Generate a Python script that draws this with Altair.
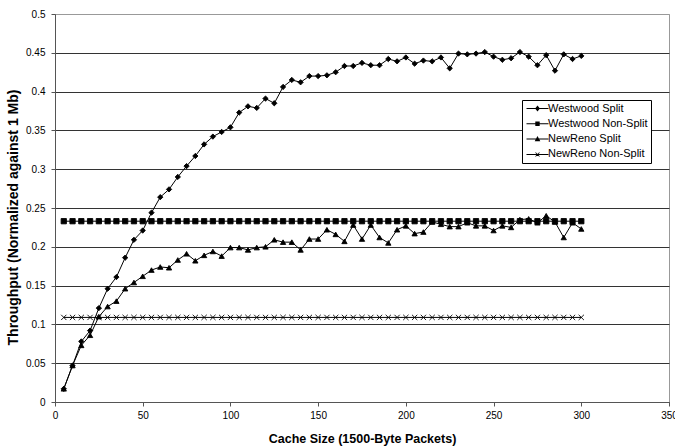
import altair as alt
import pandas as pd

cache_size = [5, 10, 15, 20, 25, 30, 35, 40, 45, 50,
              55, 60, 65, 70, 75, 80, 85, 90, 95, 100,
              105, 110, 115, 120, 125, 130, 135, 140, 145, 150,
              155, 160, 165, 170, 175, 180, 185, 190, 195, 200,
              205, 210, 215, 220, 225, 230, 235, 240, 245, 250,
              255, 260, 265, 270, 275, 280, 285, 290, 295, 300]

westwood_split = [0.017, 0.047, 0.078, 0.092, 0.121, 0.146, 0.161, 0.186, 0.209, 0.221,
                  0.244, 0.264, 0.274, 0.290, 0.304, 0.317, 0.332, 0.342, 0.348, 0.354,
                  0.373, 0.381, 0.379, 0.391, 0.385, 0.406, 0.415, 0.412, 0.420, 0.420,
                  0.421, 0.425, 0.433, 0.433, 0.437, 0.434, 0.434, 0.442, 0.439, 0.444,
                  0.436, 0.440, 0.439, 0.444, 0.430, 0.449, 0.448, 0.449, 0.451, 0.445,
                  0.441, 0.443, 0.451, 0.445, 0.434, 0.447, 0.427, 0.448, 0.442, 0.446]

westwood_nonsplit = [0.233, 0.233, 0.233, 0.233, 0.233, 0.233, 0.233, 0.233, 0.233, 0.233,
                     0.233, 0.233, 0.233, 0.233, 0.233, 0.233, 0.233, 0.233, 0.233, 0.233,
                     0.233, 0.233, 0.233, 0.233, 0.233, 0.233, 0.233, 0.233, 0.233, 0.233,
                     0.233, 0.233, 0.233, 0.233, 0.233, 0.233, 0.233, 0.233, 0.233, 0.233,
                     0.233, 0.233, 0.233, 0.233, 0.233, 0.233, 0.233, 0.233, 0.233, 0.233,
                     0.233, 0.233, 0.233, 0.233, 0.233, 0.233, 0.233, 0.233, 0.233, 0.233]

newreno_split = [0.017, 0.047, 0.073, 0.086, 0.110, 0.123, 0.130, 0.146, 0.154, 0.162,
                 0.170, 0.174, 0.173, 0.183, 0.191, 0.182, 0.189, 0.194, 0.188, 0.199,
                 0.199, 0.196, 0.199, 0.200, 0.209, 0.206, 0.206, 0.196, 0.210, 0.210,
                 0.222, 0.216, 0.207, 0.228, 0.210, 0.228, 0.212, 0.205, 0.222, 0.227,
                 0.217, 0.219, 0.232, 0.229, 0.226, 0.226, 0.231, 0.227, 0.227, 0.221,
                 0.227, 0.225, 0.235, 0.236, 0.231, 0.240, 0.232, 0.212, 0.231, 0.223]

newreno_nonsplit = [0.109, 0.109, 0.109, 0.109, 0.109, 0.109, 0.109, 0.109, 0.109, 0.109,
                    0.109, 0.109, 0.109, 0.109, 0.109, 0.109, 0.109, 0.109, 0.109, 0.109,
                    0.109, 0.109, 0.109, 0.109, 0.109, 0.109, 0.109, 0.109, 0.109, 0.109,
                    0.109, 0.109, 0.109, 0.109, 0.109, 0.109, 0.109, 0.109, 0.109, 0.109,
                    0.109, 0.109, 0.109, 0.109, 0.109, 0.109, 0.109, 0.109, 0.109, 0.109,
                    0.109, 0.109, 0.109, 0.109, 0.109, 0.109, 0.109, 0.109, 0.109, 0.109]

series_names = ["Westwood Split", "Westwood Non-Split", "NewReno Split", "NewReno Non-Split"]
x_ticks = [0, 50, 100, 150, 200, 250, 300, 350]
y_ticks = [0, 0.05, 0.1, 0.15, 0.2, 0.25, 0.3, 0.35, 0.4, 0.45, 0.5]

rows = []
for name, vals in zip(series_names, [westwood_split, westwood_nonsplit, newreno_split, newreno_nonsplit]):
    for x, v in zip(cache_size, vals):
        rows.append({"cache": x, "thr": v, "series": name})
df = pd.DataFrame(rows)

marker_shapes = ["diamond", "square", "triangle-up", "M-1,-1L1,1M1,-1L-1,1"]

# legend glyphs: a thin filled bar (the line) plus the series marker, all filled paths
bar = "M-2.75,-0.125H2.75V0.125H-2.75Z"
legend_shapes = [
    bar + "M0,-0.75L0.6,0L0,0.75L-0.6,0Z",
    bar + "M-0.55,-0.55H0.55V0.55H-0.55Z",
    bar + "M0,-0.75L0.7,0.55H-0.7Z",
    bar + "M-0.564,-0.436L-0.436,-0.564L0.564,0.436L0.436,0.564Z"
          "M0.564,-0.436L-0.436,0.564L-0.564,0.436L0.436,-0.564Z",
]

x_enc = alt.X(
    "cache:Q",
    scale=alt.Scale(domain=[0, 350], nice=False),
    axis=alt.Axis(
        values=x_ticks, title="Cache Size (1500-Byte Packets)",
        titleFontSize=12.5, titleFontWeight="bold", titleColor="black",
        titleY=36, titleBaseline="middle",
        labelFontSize=10, labelColor="black", labelPadding=4, labelFlush=False,
        tickSize=4, tickColor="#555555", domainColor="#555555", grid=False,
    ),
)
y_enc = alt.Y(
    "thr:Q",
    scale=alt.Scale(domain=[0, 0.5], nice=False),
    axis=alt.Axis(
        values=y_ticks, format="~g", title="Throughput (Normalized against 1 Mb)",
        titleFontSize=14, titleFontWeight="bold", titleColor="black",
        titleX=-42, titleY=203, titleAngle=270, titleAlign="center", titleBaseline="middle",
        labelFontSize=10, labelColor="black", labelPadding=6,
        tickSize=4, tickColor="#555555", domainColor="#555555",
        grid=True,
        gridColor=alt.condition("datum.value >= 0.5", alt.value("#999999"), alt.value("#333333")),
        gridWidth=1,
    ),
)

base = alt.Chart(df)

lines = base.mark_line(color="black", strokeWidth=1).encode(
    x=x_enc, y=y_enc, detail="series:N"
)

points = base.mark_point(filled=True, fill="black", stroke="black", strokeWidth=0.9,
                         size=28, opacity=1).encode(
    x=x_enc, y=y_enc,
    shape=alt.Shape("series:N", scale=alt.Scale(domain=series_names, range=marker_shapes), legend=None),
)

legend_layer = base.mark_point(filled=True, color="black", size=64, opacity=0).encode(
    x=x_enc, y=y_enc,
    shape=alt.Shape(
        "series:N",
        scale=alt.Scale(domain=series_names, range=legend_shapes),
        legend=alt.Legend(
            title=None, orient="none", legendX=467, legendY=86,
            strokeColor="black", fillColor="white", padding=3, cornerRadius=0,
            symbolSize=64, symbolStrokeWidth=0,
            symbolFillColor="black", symbolOpacity=1, symbolOffset=7,
            labelFontSize=11, labelColor="black", labelOffset=5, labelLimit=300,
            rowPadding=3.3,
        ),
    ),
)

chart = (
    alt.layer(lines, points, legend_layer)
    .resolve_scale(shape="independent")
    .properties(
        width=614, height=388,
        autosize=alt.AutoSizeParams(type="none"),
        padding={"left": 55, "top": 14, "right": 6, "bottom": 45},
        background="white",
    )
    .configure(font="Liberation Sans")
    .configure_view(stroke="#999999", strokeWidth=1)
)

chart.save("out.html", embed_options={"renderer": "svg", "actions": False})
